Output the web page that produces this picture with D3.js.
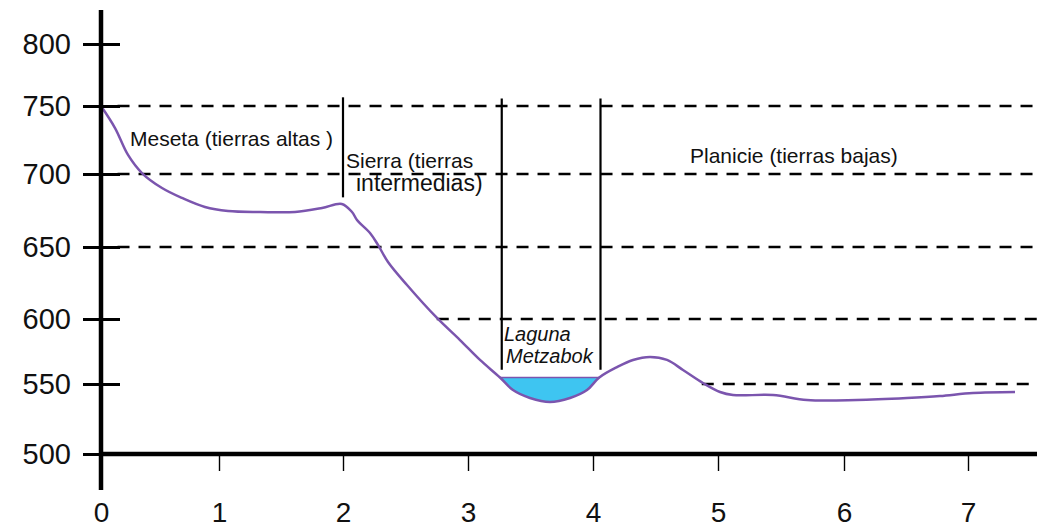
<!DOCTYPE html>
<html>
<head>
<meta charset="utf-8">
<script src="https://cdn.jsdelivr.net/npm/d3@7"></script>
<style>
  html, body { margin: 0; padding: 0; background: #ffffff; }
  svg { display: block; font-family: "Liberation Sans", Arial, sans-serif; }
</style>
</head>
<body>
<svg id="chart" width="1037" height="529"></svg>
<script>
// ---- data ----
const xTicks = [0, 1, 2, 3, 4, 5, 6, 7];
const yTicks = [500, 550, 600, 650, 700, 750, 800];

// profile: distance (x) and elevation (y)
const profileX = [0, 0.119, 0.229, 0.347, 0.517, 0.686, 0.881, 1.073, 1.331, 1.613, 1.831, 1.99,
  2.072, 2.112, 2.216, 2.28, 2.36, 2.512, 2.752, 2.936, 3.096, 3.256, 3.36, 3.496, 3.656, 3.816,
  3.952, 4.05, 4.192, 4.32, 4.456, 4.592, 4.72, 4.88, 5.016, 5.119, 5.437, 5.706, 6.105, 6.508,
  6.774, 7.04, 7.379];
const profileY = [750, 733.8, 714, 700.7, 690.4, 683.6, 677.4, 674.7, 674, 674, 676.7, 679.5,
  674, 668.5, 659.6, 651.4, 639.6, 623.6, 600.7, 583.8, 568.5, 555, 545.7, 540, 537.1, 540,
  545.7, 555, 563, 568.5, 570.8, 568.5, 560.8, 550.8, 544.3, 542.1, 542.1, 538.6, 538.6, 540,
  541.4, 543.6, 544.3];

const lakeLevel = 555;
const lakeStart = 3.256;
const lakeEnd = 4.05;

const guideLevels = [750, 700, 650, 600, 550];
const guideStart = [0.14, 0.14, 0.14, 2.75, 4.87];

const dividerX = [2, 3.27, 4.06];
const dividerTop = [757, 756, 756];
const dividerBottom = [684, 561, 561];

const regionLabels = ["Meseta (tierras altas )", "Sierra (tierras", "intermedias)", "Planicie (tierras bajas)"];
const lakeLabels = ["Laguna", "Metzabok"];

// ---- drawing ----
const W = 1037, H = 529;
const svg = d3.select("#chart");

const x = d3.scaleLinear().domain(xTicks).range([101, 219, 343, 468, 593, 718, 844, 968]);
const y = d3.scaleLinear().domain(yTicks).range([454, 384, 319, 247, 174, 106, 44]);

const purple = "#7b55ae";
const smooth = d3.curveCatmullRom.alpha(0.5);

// guide dashed lines
svg.append("g").selectAll("line").data(guideLevels).join("line")
  .attr("x1", (d, i) => x(guideStart[i]))
  .attr("x2", W)
  .attr("y1", d => y(d)).attr("y2", d => y(d))
  .attr("stroke", "#000").attr("stroke-width", 2.5)
  .attr("stroke-dasharray", "12,9");

// dividers
svg.append("g").selectAll("line").data(dividerX).join("line")
  .attr("x1", d => x(d)).attr("x2", d => x(d))
  .attr("y1", (d, i) => y(dividerTop[i]))
  .attr("y2", (d, i) => y(dividerBottom[i]))
  .attr("stroke", "#000").attr("stroke-width", 2.2);

// lake
const profile = profileX.map((d, i) => ({ x: d, y: profileY[i] }));
const lakePts = profile.filter(p => p.x >= lakeStart - 1e-6 && p.x <= lakeEnd + 1e-6);
svg.append("path")
  .datum(lakePts)
  .attr("d", d3.area().x(d => x(d.x)).y0(y(lakeLevel)).y1(d => y(d.y)).curve(smooth))
  .attr("fill", "#3ec5f1");
svg.append("line")
  .attr("x1", x(lakeStart)).attr("x2", x(lakeEnd))
  .attr("y1", y(lakeLevel)).attr("y2", y(lakeLevel))
  .attr("stroke", purple).attr("stroke-width", 1.5);

// profile line
svg.append("path")
  .datum(profile)
  .attr("d", d3.line().x(d => x(d.x)).y(d => y(d.y)).curve(smooth))
  .attr("fill", "none").attr("stroke", purple).attr("stroke-width", 2.5);

// axes
const yAxis = svg.append("g").attr("transform", `translate(${x(0)},0)`)
  .call(d3.axisLeft(y).tickValues(yTicks).tickSize(0).tickPadding(30).tickFormat(d3.format("d")));
yAxis.select(".domain").remove();
yAxis.selectAll("text").attr("font-size", 29).attr("fill", "#111")
  .attr("font-family", "Liberation Sans, Arial, sans-serif");
yAxis.selectAll(".tick").append("line")
  .attr("x1", -18).attr("x2", 19).attr("stroke", "#000").attr("stroke-width", 3.2);

const xAxis = svg.append("g").attr("transform", `translate(0,${y(500)})`)
  .call(d3.axisBottom(x).tickValues(xTicks).tickSize(17).tickPadding(30).tickFormat(d3.format("d")));
xAxis.select(".domain").remove();
xAxis.selectAll(".tick line").attr("stroke", "#000").attr("stroke-width", 1.4);
xAxis.selectAll(".tick").filter(d => d === 0).select("line").remove();
xAxis.selectAll("text").attr("font-size", 28).attr("fill", "#111")
  .attr("dy", null).attr("y", 68)
  .attr("font-family", "Liberation Sans, Arial, sans-serif");

// axis lines
svg.append("line").attr("x1", x(0)).attr("x2", W).attr("y1", y(500)).attr("y2", y(500))
  .attr("stroke", "#000").attr("stroke-width", 4.5);
svg.append("line").attr("x1", x(0)).attr("x2", x(0)).attr("y1", 10).attr("y2", 490)
  .attr("stroke", "#000").attr("stroke-width", 4.5);

// region labels
const labelPos = [[0.246, 720.6, 21], [2.024, 704.4, 21], [2.104, 688.4, 23], [4.776, 708, 21]];
svg.append("g").selectAll("text").data(regionLabels).join("text")
  .attr("x", (d, i) => x(labelPos[i][0]))
  .attr("y", (d, i) => y(labelPos[i][1]))
  .attr("font-size", (d, i) => labelPos[i][2])
  .attr("fill", "#111")
  .text(d => d);

const lakePos = [[3.288, 583], [3.304, 566.2]];
svg.append("g").selectAll("text").data(lakeLabels).join("text")
  .attr("x", (d, i) => x(lakePos[i][0]))
  .attr("y", (d, i) => y(lakePos[i][1]))
  .attr("font-size", 20).attr("font-style", "italic").attr("fill", "#111")
  .text(d => d);
</script>
</body>
</html>
